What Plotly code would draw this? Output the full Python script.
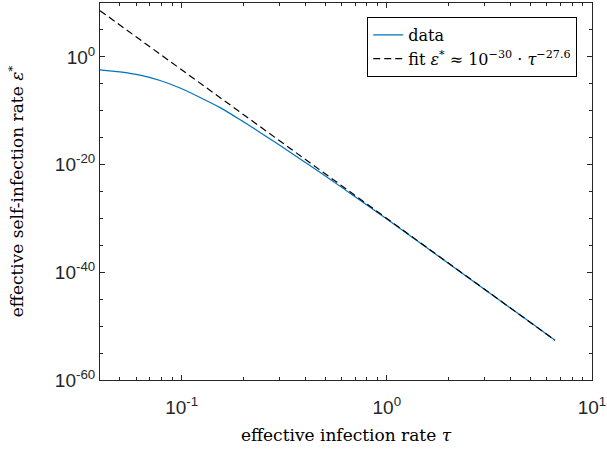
import plotly.graph_objects as go
import math

# data
tau = [0.040, 0.050, 0.0627, 0.0785, 0.0982, 0.123, 0.154, 0.193, 0.241, 0.302,
       0.378, 0.47, 0.593, 0.75, 1.0, 1.5, 2.0, 3.0, 4.0, 5.0, 6.6]
eps = [3.98e-3, 1.62e-3, 3.94e-4, 3.99e-5, 1.65e-6, 2.94e-8, 3.76e-10, 2.07e-12,
       9.5e-15, 3.40e-17, 1.10e-19, 3.98e-22, 8.97e-25, 1.77e-27, 7.6e-31,
       1.20e-35, 4.49e-39, 6.49e-44, 2.36e-47, 5.1e-50, 2.40e-53]

fit_tau = [0.04, 6.6]
fit_eps = [3.8e8, 2.4e-53]

x_ticks = [0.1, 1, 10]
x_ticktext = ["10<sup>-1</sup>", "10<sup>0</sup>", "10<sup>1</sup>"]
y_ticks = [1e0, 1e-20, 1e-40, 1e-60]
y_ticktext = ["10<sup>0</sup>", "10<sup>-20</sup>", "10<sup>-40</sup>", "10<sup>-60</sup>"]

x_minor = [0.05, 0.06, 0.07, 0.08, 0.09] + [k / 10 for k in range(2, 10)] + list(range(2, 10))
y_minor = [10.0 ** e for e in range(10, -61, -5)]

axis_color = "#262626"
tick_font = dict(family="Liberation Sans, Arial, sans-serif", size=19, color=axis_color)
title_font = dict(family="DejaVu Serif, serif", size=17, color="black")

fig = go.Figure()
fig.add_trace(go.Scatter(x=tau, y=eps, mode="lines", name="data",
                         line=dict(color="#0072BD", width=1.2, shape="spline", smoothing=0.8)))
fig.add_trace(go.Scatter(x=fit_tau, y=fit_eps, mode="lines",
                         name="fit <i>ε</i><sup>*</sup> ≈ 10<sup>−30</sup> · <i>τ</i><sup>−27.6</sup>",
                         line=dict(color="black", width=1.2, dash="7px,4px")))

fig.update_layout(
    width=607, height=451,
    margin=dict(l=100, r=15, t=3, b=71, autoexpand=False),
    paper_bgcolor="white", plot_bgcolor="white",
    showlegend=True,
    legend=dict(x=0.97, y=0.963, xanchor="right", yanchor="top",
                bgcolor="white", bordercolor="black", borderwidth=1,
                font=dict(family="DejaVu Serif, serif", size=16, color="black"),
                tracegroupgap=0),
)
fig.update_xaxes(
    type="log", range=[math.log10(0.04), 1], automargin=False,
    showline=True, linecolor=axis_color, linewidth=1, mirror="ticks",
    ticks="inside", ticklen=5, tickcolor=axis_color,
    tickmode="array", tickvals=x_ticks, ticktext=x_ticktext, ticklabelstandoff=10,
    tickfont=tick_font, showgrid=False, zeroline=False,
    minor=dict(tickmode="array", tickvals=x_minor, ticks="inside", ticklen=3,
               tickcolor=axis_color, showgrid=False),
    title=dict(text="effective infection rate <i>τ</i>", font=title_font, standoff=12),
)
fig.update_yaxes(
    type="log", range=[-60, 10], automargin=False,
    showline=True, linecolor=axis_color, linewidth=1, mirror="ticks",
    ticks="inside", ticklen=5, tickcolor=axis_color,
    tickmode="array", tickvals=y_ticks, ticktext=y_ticktext,
    tickfont=tick_font, showgrid=False, zeroline=False,
    minor=dict(tickmode="array", tickvals=y_minor, ticks="inside", ticklen=3,
               tickcolor=axis_color, showgrid=False),
    title=dict(text="effective self-infection rate <i>ε</i><sup>*</sup>", font=title_font, standoff=26),
)

fig.write_html("out.html", config={"displayModeBar": False},
               post_script="document.body.style.margin='0';")
